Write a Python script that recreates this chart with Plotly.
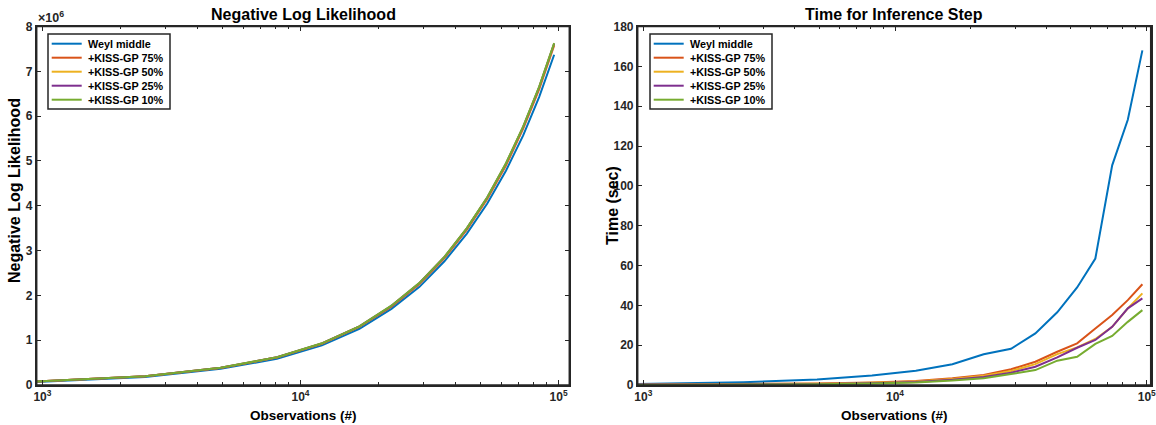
import math
import plotly.graph_objects as go

# ---------------- data ----------------
observations = [900, 2500, 4900, 8100, 12100, 16900, 22500, 28900, 36100,
                44100, 52900, 62500, 72900, 84100, 96100]
series_names = ["Weyl middle", "+KISS-GP 75%", "+KISS-GP 50%", "+KISS-GP 25%", "+KISS-GP 10%"]
series_colors = ["#0072BD", "#D95319", "#EDB120", "#7E2F8E", "#77AC30"]

nll_weyl = [0.06e6, 0.18e6, 0.36e6, 0.585e6, 0.885e6, 1.255e6, 1.70e6, 2.19e6, 2.76e6,
            3.38e6, 4.05e6, 4.78e6, 5.57e6, 6.43e6, 7.37e6]
nll_kiss75 = [0.073e6, 0.193e6, 0.38e6, 0.612e6, 0.92e6, 1.295e6, 1.75e6, 2.255e6, 2.83e6,
              3.465e6, 4.15e6, 4.90e6, 5.72e6, 6.60e6, 7.58e6]
nll_kiss50 = [0.074e6, 0.194e6, 0.383e6, 0.617e6, 0.926e6, 1.305e6, 1.762e6, 2.27e6, 2.85e6,
              3.49e6, 4.175e6, 4.93e6, 5.75e6, 6.64e6, 7.61e6]
nll_kiss25 = [0.075e6, 0.195e6, 0.384e6, 0.619e6, 0.928e6, 1.308e6, 1.766e6, 2.275e6, 2.855e6,
              3.495e6, 4.185e6, 4.94e6, 5.76e6, 6.65e6, 7.62e6]
nll_kiss10 = [0.075e6, 0.195e6, 0.385e6, 0.62e6, 0.93e6, 1.31e6, 1.77e6, 2.28e6, 2.86e6,
              3.50e6, 4.19e6, 4.95e6, 5.77e6, 6.66e6, 7.63e6]

time_weyl = [0.4, 1.4, 2.8, 4.8, 7.2, 10.4, 15.4, 18.2, 25.9, 36.5, 49.0, 63.5, 110.3, 133.2, 168.0]
time_kiss75 = [0.15, 0.4, 0.8, 1.3, 2.0, 3.4, 5.0, 7.9, 11.7, 16.7, 20.9, 28.4, 35.1, 42.6, 50.6]
time_kiss50 = [0.1, 0.3, 0.6, 1.1, 1.7, 3.0, 4.6, 7.0, 10.5, 15.5, 18.9, 23.1, 29.2, 38.5, 46.0]
time_kiss25 = [0.1, 0.25, 0.5, 0.9, 1.5, 2.6, 4.0, 6.2, 9.2, 13.9, 18.7, 22.6, 29.2, 38.5, 43.5]
time_kiss10 = [0.05, 0.2, 0.4, 0.8, 1.3, 2.2, 3.4, 5.5, 7.5, 12.2, 14.2, 20.6, 24.6, 31.7, 37.6]

x_major_ticks = [1000, 10000, 100000]
x_major_labels = ["10<sup>3</sup>", "10<sup>4</sup>", "10<sup>5</sup>"]
x_minor_ticks = [2000, 3000, 4000, 5000, 6000, 7000, 8000, 9000,
                 20000, 30000, 40000, 50000, 60000, 70000, 80000, 90000]
nll_ticks = [0, 1e6, 2e6, 3e6, 4e6, 5e6, 6e6, 7e6, 8e6]
nll_tick_labels = ["0", "1", "2", "3", "4", "5", "6", "7", "8"]
time_ticks = [0, 20, 40, 60, 80, 100, 120, 140, 160, 180]

# ---------------- figure ----------------
W, H = 1156, 425
FONT = "Liberation Sans, Arial, Helvetica, sans-serif"
AX = "#262626"

fig = go.Figure()
nll_series = [nll_weyl, nll_kiss75, nll_kiss50, nll_kiss25, nll_kiss10]
time_series = [time_weyl, time_kiss75, time_kiss50, time_kiss25, time_kiss10]
for name, col, ys in zip(series_names, series_colors, nll_series):
    fig.add_trace(go.Scatter(x=observations, y=ys, mode="lines", name=name,
                             line=dict(color=col, width=2), xaxis="x", yaxis="y",
                             showlegend=False))
for name, col, ys in zip(series_names, series_colors, time_series):
    fig.add_trace(go.Scatter(x=observations, y=ys, mode="lines", name=name,
                             line=dict(color=col, width=2), xaxis="x2", yaxis="y2",
                             showlegend=False))


def px_x(p):
    return p / W


def px_y(p):
    return 1 - p / H


ydom = [px_y(385), px_y(26.5)]
common_x = dict(type="log", showgrid=False, zeroline=False, showline=True, linecolor=AX,
                linewidth=1.5, mirror="ticks", ticks="inside", ticklen=5, tickwidth=1.2,
                tickcolor=AX, tickmode="array", tickvals=x_major_ticks, ticktext=x_major_labels,
                ticklabeloverflow="allow",
                tickfont=dict(family=FONT, size=12, color=AX, weight="bold"),
                minor=dict(tickmode="array", tickvals=x_minor_ticks, ticks="inside",
                           ticklen=3, tickwidth=1, tickcolor=AX, showgrid=False))
common_y = dict(showgrid=False, zeroline=False, showline=True, linecolor=AX, linewidth=1.5,
                mirror="ticks", ticks="inside", ticklen=5, tickwidth=1.2, tickcolor=AX,
                tickfont=dict(family=FONT, size=12, color=AX, weight="bold"))

fig.update_layout(
    width=W, height=H,
    margin=dict(l=0, r=0, t=0, b=0, autoexpand=False),
    paper_bgcolor="white", plot_bgcolor="white",
    showlegend=False,
    xaxis=dict(common_x, domain=[px_x(36.7), px_x(569.3)],
               range=[math.log10(950), math.log10(110000)], anchor="y"),
    yaxis=dict(common_y, domain=ydom, range=[0, 8e6], tickmode="array",
               tickvals=nll_ticks, ticktext=nll_tick_labels, anchor="x"),
    xaxis2=dict(common_x, domain=[px_x(637.7), px_x(1150.7)],
                range=[math.log10(950), math.log10(103700)], anchor="y2"),
    yaxis2=dict(common_y, domain=ydom, range=[0, 180], tickmode="array",
                tickvals=time_ticks, anchor="x2"),
)

# axes frames (box on)
for xr, yr in [("x domain", "y domain"), ("x2 domain", "y2 domain")]:
    fig.add_shape(type="rect", xref=xr, yref=yr, x0=0, x1=1, y0=0, y1=1,
                  line=dict(color=AX, width=1.5), layer="above")

# titles and axis labels
for text, cx in [("Negative Log Likelihood", 303), ("Time for Inference Step", 894)]:
    fig.add_annotation(text="<b>%s</b>" % text, xref="paper", yref="paper",
                       x=px_x(cx), y=px_y(14), xanchor="center", yanchor="middle",
                       showarrow=False, font=dict(family=FONT, size=16, color="#000000"))
for cx in [303, 894]:
    fig.add_annotation(text="<b>Observations (#)</b>", xref="paper", yref="paper",
                       x=px_x(cx), y=px_y(415), xanchor="center", yanchor="middle",
                       showarrow=False, font=dict(family=FONT, size=13.5, color="#000000"))
fig.add_annotation(text="<b>Negative Log Likelihood</b>", xref="paper", yref="paper",
                   x=px_x(14), y=px_y(191), textangle=-90, showarrow=False,
                   xanchor="center", yanchor="middle",
                   font=dict(family=FONT, size=16, color="#000000"))
fig.add_annotation(text="<b>Time (sec)</b>", xref="paper", yref="paper",
                   x=px_x(613), y=px_y(206), textangle=-90, showarrow=False,
                   xanchor="center", yanchor="middle",
                   font=dict(family=FONT, size=16, color="#000000"))
fig.add_annotation(text="<b>×10<sup>6</sup></b>", xref="paper", yref="paper",
                   x=px_x(36), y=px_y(17), xanchor="left", yanchor="middle",
                   showarrow=False, font=dict(family=FONT, size=12.5, color=AX))

# legend boxes (drawn as shapes + text, one per panel)
for box_left in [48, 650]:
    fig.add_shape(type="rect", xref="paper", yref="paper",
                  x0=px_x(box_left), x1=px_x(box_left + 122), y0=px_y(109), y1=px_y(34),
                  line=dict(color=AX, width=1.5), fillcolor="white", layer="above")
    for i, (name, col) in enumerate(zip(series_names, series_colors)):
        yy = 43.7 + 14 * i
        fig.add_shape(type="line", xref="paper", yref="paper",
                      x0=px_x(box_left + 3.7), x1=px_x(box_left + 33.7),
                      y0=px_y(yy), y1=px_y(yy), line=dict(color=col, width=2), layer="above")
        fig.add_annotation(text="<b>%s</b>" % name, xref="paper", yref="paper",
                           x=px_x(box_left + 37.5), y=px_y(yy), xanchor="left",
                           yanchor="middle", showarrow=False,
                           font=dict(family=FONT, size=10.8, color="#000000"))

fig.write_html("out.html", config={"displayModeBar": False},
               post_script="document.body.style.margin='0px';"
                           "document.body.style.overflow='hidden';")
